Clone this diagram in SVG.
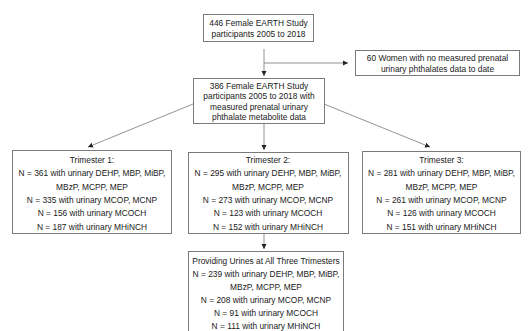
<svg xmlns="http://www.w3.org/2000/svg" width="530" height="331" viewBox="0 0 530 331">
<defs>
<marker id="ah" markerWidth="6" markerHeight="6" refX="5" refY="3" orient="auto" markerUnits="userSpaceOnUse">
<path d="M0,0.5 L5,3 L0,5.5 Z" fill="#222"/>
</marker>
<style>
.box{fill:#fff;stroke:#7a7a7a;stroke-width:1}
.t{font-family:"Liberation Sans",Arial,sans-serif;font-size:8.4px;fill:#1a1a1a;text-anchor:middle}
.c{stroke:#777;stroke-width:0.8;fill:none}
</style>
</defs>
<rect width="530" height="331" fill="#fff"/>
<g id="connectors">
<path class="c" d="M264,49 L264,76" marker-end="url(#ah)"/>
<path class="c" d="M264,63 L348,63" marker-end="url(#ah)"/>
<path class="c" d="M193,104 L88,147" marker-end="url(#ah)"/>
<path class="c" d="M324,104 L430,147" marker-end="url(#ah)"/>
<path class="c" d="M264,124 L264,150" marker-end="url(#ah)"/>
<path class="c" d="M264,234 L264,249" marker-end="url(#ah)"/>
</g>
<g id="n_total">
<rect class="box" x="203.5" y="14.5" width="110" height="27"/>
<text class="t" x="258.5" y="25.5">446 Female EARTH Study</text>
<text class="t" x="258.5" y="36.5">participants 2005 to 2018</text>
</g>
<g id="n_excluded">
<rect class="box" x="355.5" y="50.5" width="164" height="25"/>
<text class="t" x="437.5" y="61">60 Women with no measured prenatal</text>
<text class="t" x="437.5" y="72">urinary phthalates data to date</text>
</g>
<g id="n_measured">
<rect class="box" x="193.5" y="78.5" width="131" height="45"/>
<text class="t" x="259" y="88.5">386  Female EARTH Study</text>
<text class="t" x="259" y="99">participants 2005 to 2018 with</text>
<text class="t" x="259" y="109.5">measured prenatal urinary</text>
<text class="t" x="259" y="120">phthalate metabolite data</text>
</g>
<g id="n_t1">
<rect class="box" x="12.5" y="150.5" width="159" height="83"/>
<text class="t" x="92" y="163">Trimester 1:</text>
<text class="t" x="92" y="176.3">N = 361 with urinary DEHP, MBP, MiBP,</text>
<text class="t" x="92" y="189.6">MBzP, MCPP, MEP</text>
<text class="t" x="92" y="202.9">N = 335 with urinary MCOP, MCNP</text>
<text class="t" x="92" y="216.2">N = 156 with urinary MCOCH</text>
<text class="t" x="92" y="229.5">N = 187 with urinary MHiNCH</text>
</g>
<g id="n_t2">
<rect class="box" x="188.5" y="152.5" width="160" height="81"/>
<text class="t" x="268" y="163">Trimester 2:</text>
<text class="t" x="268" y="176.3">N = 295 with urinary DEHP, MBP, MiBP,</text>
<text class="t" x="268" y="189.6">MBzP, MCPP, MEP</text>
<text class="t" x="268" y="202.9">N = 273 with urinary MCOP, MCNP</text>
<text class="t" x="268" y="216.2">N =  123 with urinary MCOCH</text>
<text class="t" x="268" y="229.5">N = 152 with urinary MHiNCH</text>
</g>
<g id="n_t3">
<rect class="box" x="362.5" y="151.5" width="158" height="82"/>
<text class="t" x="441.5" y="163">Trimester 3:</text>
<text class="t" x="441.5" y="176.3">N = 281 with urinary DEHP, MBP, MiBP,</text>
<text class="t" x="441.5" y="189.6">MBzP, MCPP, MEP</text>
<text class="t" x="441.5" y="202.9">N = 261 with urinary MCOP, MCNP</text>
<text class="t" x="441.5" y="216.2">N = 126 with urinary MCOCH</text>
<text class="t" x="441.5" y="229.5">N = 151 with urinary MHiNCH</text>
</g>
<g id="n_all">
<rect class="box" x="188.5" y="251.5" width="155" height="90"/>
<text class="t" x="266" y="264">Providing Urines at All Three Trimesters</text>
<text class="t" x="266" y="277">N = 239 with urinary DEHP, MBP, MiBP,</text>
<text class="t" x="266" y="290">MBzP, MCPP, MEP</text>
<text class="t" x="266" y="303">N = 208 with urinary MCOP, MCNP</text>
<text class="t" x="266" y="316">N = 91 with urinary MCOCH</text>
<text class="t" x="266" y="329">N = 111 with urinary MHiNCH</text>
</g>
</svg>
